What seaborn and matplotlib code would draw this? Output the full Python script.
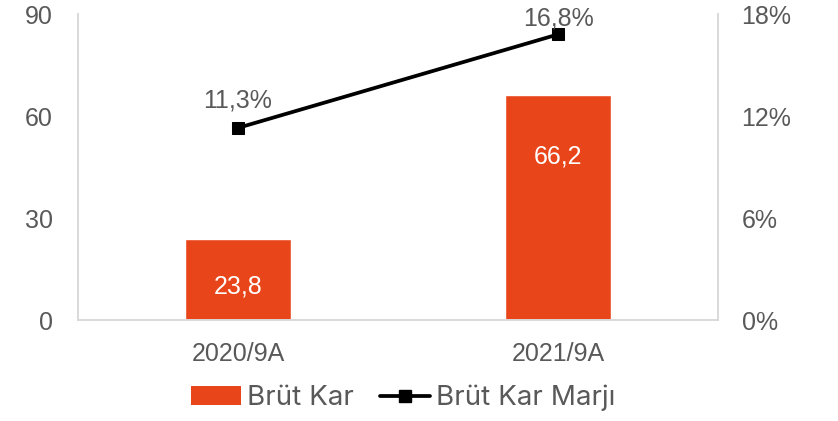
import numpy as np
import matplotlib
matplotlib.use("Agg")
import matplotlib.pyplot as plt
import seaborn as sns
from matplotlib.lines import Line2D
from matplotlib.patches import Patch

# Chart data
categories = ["2020/9A", "2021/9A"]
gross_profit = [23.8, 66.2]
gross_margin = [11.3, 16.8]
left_ticks = [0, 30, 60, 90]
right_ticks = [0, 6, 12, 18]

bar_color = "#E8461A"
grey = "#595959"
spine_grey = "#D9D9D9"

sns.set_style("white")
plt.rcParams["font.family"] = ["Liberation Sans", "DejaVu Sans"]

fig = plt.figure(figsize=(8.38, 4.21), dpi=100)
ax = fig.add_axes([78 / 838, 1 - 320 / 421, 640 / 838, 306 / 421])

sns.barplot(x=categories, y=gross_profit, color=bar_color, width=0.33,
            saturation=1, ax=ax)
ax.set_xlim(-0.5, 1.5)
ax.set_ylim(0, 90)
ax.set_yticks(left_ticks)
ax.set_yticklabels([str(t) for t in left_ticks])
ax.tick_params(axis="both", length=0, labelsize=18, labelcolor=grey)
ax.tick_params(axis="y", pad=18)
ax.tick_params(axis="x", pad=16)
ax.set_xlabel("")
ax.set_ylabel("")

# bar value labels inside the bars
offsets = [-47, -62]
for i, v in enumerate(gross_profit):
    ax.annotate(f"{v:.1f}".replace(".", ","), (i, v), xytext=(0, offsets[i] * 0.72),
                textcoords="offset points", ha="center", va="center",
                color="white", fontsize=18)

ax2 = ax.twinx()
sns.lineplot(x=[0, 1], y=gross_margin, color="black", linewidth=2.7,
             marker="s", markersize=9, markeredgecolor="black", ax=ax2)
ax2.set_ylim(0, 18)
ax2.set_yticks(right_ticks)
ax2.set_yticklabels([f"{t}%" for t in right_ticks])
ax2.tick_params(axis="y", length=0, labelsize=18, labelcolor=grey, pad=17)

# margin labels above the markers
label_offsets = [27, 16]
for i, v in enumerate(gross_margin):
    ax2.annotate(f"{v:.1f}%".replace(".", ","), (i, v), xytext=(0, label_offsets[i] * 0.72),
                 textcoords="offset points", ha="center", va="center",
                 color=grey, fontsize=18, annotation_clip=False)

for a in (ax, ax2):
    a.spines["top"].set_visible(False)
    for s in ("left", "right", "bottom"):
        a.spines[s].set_color(spine_grey)
        a.spines[s].set_linewidth(1.2)

handles = [Patch(facecolor=bar_color, edgecolor="none"),
           Line2D([0], [0], color="black", linewidth=2.7, marker="s", markersize=8)]
fig.legend(handles, ["Brüt Kar", "Brüt Kar Marjı"], loc="center",
           bbox_to_anchor=(403 / 838, 1 - 398 / 421), ncol=2, frameon=False,
           prop={"family": ["Inter", "DejaVu Sans"], "size": 20},
           labelcolor=grey, handlelength=1.8, handletextpad=0.2, columnspacing=0.95)

fig.savefig("out.png", dpi=100)
